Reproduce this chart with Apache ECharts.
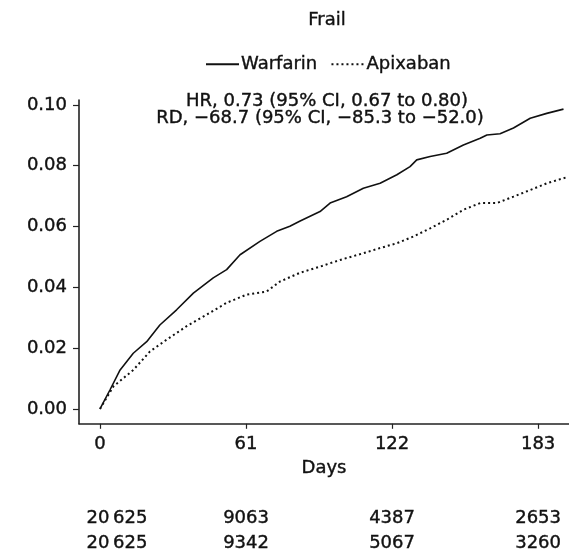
<!DOCTYPE html>
<html>
<head>
<meta charset="utf-8">
<script src="https://cdn.jsdelivr.net/npm/echarts@6/dist/echarts.min.js"></script>
<style>
  html, body { margin: 0; padding: 0; background: #fff; }
  #main { width: 569px; height: 553px; }
</style>
</head>
<body>
<div id="main"></div>
<script>
var dayTicks = [0, 61, 122, 183];
var yTicks = [0, 0.02, 0.04, 0.06, 0.08, 0.10];

// [day, cumulative incidence]
var warfarin = [
  [0, 0], [4.2, 0.0063], [8.4, 0.0128], [13.9, 0.0183], [19.5, 0.0221], [25, 0.0276],
  [32, 0.0326], [39, 0.0381], [47.3, 0.0431], [52.9, 0.0458], [58.5, 0.0507],
  [66.8, 0.0551], [73.8, 0.0584], [79.3, 0.0601], [83.6, 0.0618], [91.9, 0.0649],
  [96.1, 0.0677], [103, 0.0698], [110, 0.0726], [117, 0.0742], [124, 0.0770],
  [129.5, 0.0797], [132.3, 0.0819], [137.9, 0.0830], [144.8, 0.0841], [151.8, 0.0868],
  [158.8, 0.0890], [161.6, 0.0901], [167.1, 0.0905], [172.7, 0.0924], [179.7, 0.0956],
  [186.6, 0.0972], [193.6, 0.0986]
];
var apixaban = [
  [0, 0], [5.6, 0.0074], [13.9, 0.0128], [20.9, 0.0189], [27.9, 0.0228], [36.2, 0.0272],
  [44.6, 0.0310], [52.9, 0.0349], [61.3, 0.0376], [69.6, 0.0386], [75.2, 0.0419],
  [83.6, 0.0448], [91.9, 0.0468], [100.3, 0.0490], [110, 0.0512], [117, 0.0529],
  [124, 0.0545], [130.9, 0.0567], [137.9, 0.0594], [144.8, 0.0622], [151.8, 0.0655],
  [158.8, 0.0677], [165.7, 0.0677], [172.7, 0.0698], [179.7, 0.0720], [186.6, 0.0742],
  [195, 0.0762]
];

var riskWarfarin = ['20\u2009625', '9063', '4387', '2653'];
var riskApixaban = ['20\u2009625', '9342', '5067', '3260'];

var FONT = '"DejaVu Sans", sans-serif';
var TXT = '#111';
var FS = 18;
var BW = 0.4; // slight stroke to thicken the glyphs

var chart = echarts.init(document.getElementById('main'), null, {renderer: 'canvas'});

function riskAxis(list, offset){
  return {
    type: 'value', gridIndex: 0, position: 'bottom', offset: offset,
    min: -8.77, max: 195.9,
    axisLine: {show: false}, axisTick: {show: false}, splitLine: {show: false},
    axisLabel: {
      customValues: dayTicks, margin: 0,
      color: TXT, fontFamily: FONT, fontSize: FS, textBorderColor: TXT, textBorderWidth: BW,
      formatter: function(v){
        var i = dayTicks.indexOf(v);
        if(i < 0){ return ''; }
        return i === 0 ? '{first|' + list[i] + '}' : list[i];
      },
      rich: {first: {padding: [0, 0, 0, 34], color: TXT, fontFamily: FONT, fontSize: FS,
        textBorderColor: TXT, textBorderWidth: BW}}
    }
  };
}

function titleText(text, x, y){
  return {text: text, left: x, top: y, textAlign: 'center', padding: 0,
    textStyle: {fontFamily: FONT, fontSize: FS, fontWeight: 'normal', color: TXT,
      textBorderColor: TXT, textBorderWidth: BW}};
}

chart.setOption({
  animation: false,
  backgroundColor: '#fff',
  title: [
    titleText('Frail', 327, 11),
    titleText('HR, 0.73 (95% CI, 0.67 to 0.80)', 327, 92),
    titleText('RD, \u221268.7 (95% CI, \u221285.3 to \u221252.0)', 320, 109)
  ],
  legend: {
    top: 55, left: 205, padding: 0,
    itemWidth: 33, itemHeight: 12, itemGap: 13,
    itemStyle: {opacity: 0},
    textStyle: {fontFamily: FONT, fontSize: FS, color: TXT, padding: [0, 0, 0, -3],
      textBorderColor: TXT, textBorderWidth: BW},
    data: ['Warfarin', 'Apixaban']
  },
  grid: {left: 79, right: 0, top: 100, bottom: 129, containLabel: false},
  xAxis: [
    {
      type: 'value', min: -8.77, max: 195.9,
      name: 'Days', nameLocation: 'middle', nameGap: 35,
      nameTextStyle: {fontFamily: FONT, fontSize: FS, color: TXT, textBorderColor: TXT, textBorderWidth: BW},
      axisLine: {show: true, onZero: false, lineStyle: {color: '#222', width: 1.6}},
      axisTick: {show: true, customValues: dayTicks, length: 5, lineStyle: {color: '#222', width: 1.2}},
      axisLabel: {customValues: dayTicks, margin: 12, color: TXT, fontFamily: FONT, fontSize: FS,
        textBorderColor: TXT, textBorderWidth: BW},
      splitLine: {show: false}
    },
    riskAxis(riskWarfarin, 86),
    riskAxis(riskApixaban, 111)
  ],
  yAxis: {
    type: 'value', min: -0.0049, max: 0.1016,
    axisLine: {show: true, onZero: false, lineStyle: {color: '#222', width: 1.6}},
    axisTick: {show: true, customValues: yTicks, length: 6, lineStyle: {color: '#222', width: 1.2}},
    axisLabel: {
      customValues: yTicks, margin: 12, color: TXT, fontFamily: FONT, fontSize: FS,
      textBorderColor: TXT, textBorderWidth: BW,
      formatter: function(v){ return v.toFixed(2); }
    },
    splitLine: {show: false}
  },
  series: [
    {
      name: 'Warfarin', type: 'line', data: warfarin, xAxisIndex: 0,
      symbol: 'none', smooth: false,
      lineStyle: {color: '#111', width: 1.6, type: 'solid'},
      itemStyle: {color: '#111'}
    },
    {
      name: 'Apixaban', type: 'line', data: apixaban, xAxisIndex: 0,
      symbol: 'none', smooth: false,
      lineStyle: {color: '#111', width: 2, type: [2, 3]},
      itemStyle: {color: '#111'}
    }
  ]
});
</script>
</body>
</html>
